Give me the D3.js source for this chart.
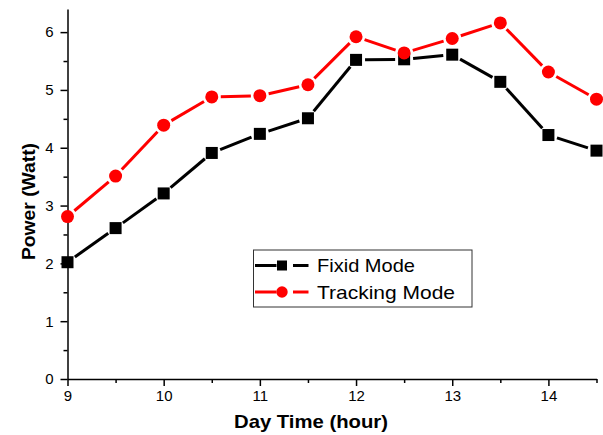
<!DOCTYPE html>
<html>
<head>
<meta charset="utf-8">
<script src="https://cdn.jsdelivr.net/npm/d3@7"></script>
<style>
  body { margin: 0; background: #fff; }
  text { font-family: "Liberation Sans", Arial, sans-serif; }
</style>
</head>
<body>
<div id="chart"></div>
<script>
var hours = [9, 9.5, 10, 10.5, 11, 11.5, 12, 12.5, 13, 13.5, 14, 14.5];
var fixedMode = [2.02, 2.61, 3.21, 3.91, 4.24, 4.51, 5.52, 5.53, 5.61, 5.14, 4.22, 3.95];
var trackingMode = [2.81, 3.51, 4.39, 4.88, 4.90, 5.09, 5.92, 5.64, 5.89, 6.16, 5.31, 4.84];
var xTicks = [9, 10, 11, 12, 13, 14];
var yTicks = [0, 1, 2, 3, 4, 5, 6];
var seriesNames = ["Fixid Mode", "Tracking Mode"];

var width = 603, height = 435;
var margin = {top: 9, right: 6, bottom: 56, left: 67.5};
var w = width - margin.left - margin.right,
    h = height - margin.top - margin.bottom;

var svg = d3.select("#chart").append("svg")
    .attr("width", width)
    .attr("height", height);

var g = svg.append("g")
    .attr("transform", "translate(" + margin.left + "," + margin.top + ")");

var x = d3.scaleLinear().domain([9, 14.5]).range([0, w - 0.5]);
var y = d3.scaleLinear().domain([0, 6.4]).range([h, 0]);

// minor ticks
g.append("g")
    .attr("transform", "translate(0," + h + ")")
    .call(d3.axisBottom(x).tickValues(d3.range(9.5, 14.6, 1)).tickSize(4).tickFormat(""))
    .call(function(s) { s.select(".domain").remove(); s.selectAll("line").attr("stroke-width", 1.5); });
g.append("g")
    .call(d3.axisLeft(y).tickValues(d3.range(0.5, 6.4, 1)).tickSize(4).tickFormat(""))
    .call(function(s) { s.select(".domain").remove(); s.selectAll("line").attr("stroke-width", 1.5); });

// X axis
var xa = g.append("g")
    .attr("transform", "translate(0," + h + ")")
    .call(d3.axisBottom(x).tickValues(xTicks).tickSize(7).tickSizeOuter(0).tickPadding(4).tickFormat(d3.format("d")));
xa.select(".domain").attr("stroke-width", 1.5);
xa.selectAll("line").attr("stroke-width", 1.5);
xa.selectAll("text").attr("font-size", 15).attr("font-family", "Liberation Sans, Arial, sans-serif");

// Y axis
var ya = g.append("g")
    .call(d3.axisLeft(y).tickValues(yTicks).tickSize(7).tickSizeOuter(0).tickPadding(7).tickFormat(d3.format("d")));
ya.select(".domain").attr("stroke-width", 1.5);
ya.selectAll("line").attr("stroke-width", 1.5);
ya.selectAll("text").attr("font-size", 15).attr("font-family", "Liberation Sans, Arial, sans-serif");

// axis titles
svg.append("text")
    .attr("x", 234).attr("y", 427.5)
    .attr("font-size", 19).attr("font-weight", "bold")
    .attr("textLength", 154).attr("lengthAdjust", "spacingAndGlyphs")
    .text("Day Time (hour)");
svg.append("text")
    .attr("transform", "translate(34.5,260) rotate(-90)")
    .attr("font-size", 19).attr("font-weight", "bold")
    .attr("textLength", 117).attr("lengthAdjust", "spacingAndGlyphs")
    .text("Power (Watt)");

// lines with gaps around the markers
var gap = 9;
function drawSeries(vals, color) {
  var pts = hours.map(function(d, i) { return [x(d), y(vals[i])]; });
  var segs = [];
  for (var i = 0; i < pts.length - 1; i++) {
    var a = pts[i], b = pts[i + 1];
    var dx = b[0] - a[0], dy = b[1] - a[1];
    var len = Math.sqrt(dx * dx + dy * dy);
    if (len > 2 * gap) {
      segs.push([a[0] + dx * gap / len, a[1] + dy * gap / len,
                 b[0] - dx * gap / len, b[1] - dy * gap / len]);
    }
  }
  g.selectAll(null).data(segs).enter().append("line")
      .attr("x1", function(d) { return d[0]; })
      .attr("y1", function(d) { return d[1]; })
      .attr("x2", function(d) { return d[2]; })
      .attr("y2", function(d) { return d[3]; })
      .attr("stroke", color)
      .attr("stroke-width", 3);
}
drawSeries(fixedMode, "#000");
drawSeries(trackingMode, "#ff0000");

g.selectAll("rect.fixed").data(fixedMode).enter().append("rect")
    .attr("class", "fixed")
    .attr("x", function(d, i) { return x(hours[i]) - 6; })
    .attr("y", function(d) { return y(d) - 6; })
    .attr("width", 12).attr("height", 12)
    .attr("fill", "#000");

g.selectAll("circle.track").data(trackingMode).enter().append("circle")
    .attr("class", "track")
    .attr("cx", function(d, i) { return x(hours[i]); })
    .attr("cy", function(d) { return y(d); })
    .attr("r", 6.5)
    .attr("fill", "#ff0000");

// legend
var lg = svg.append("g").attr("transform", "translate(253.5,250)");
lg.append("rect")
    .attr("width", 218.5).attr("height", 57)
    .attr("fill", "#fff").attr("stroke", "#333").attr("stroke-width", 1);
var rows = [{name: seriesNames[0], color: "#000", shape: "square", len: 98},
            {name: seriesNames[1], color: "#ff0000", shape: "circle", len: 138}];
rows.forEach(function(r, i) {
  var cy = 15.5 + i * 26.5;
  lg.append("line").attr("x1", 1.5).attr("x2", 23).attr("y1", cy).attr("y2", cy)
    .attr("stroke", r.color).attr("stroke-width", 3);
  lg.append("line").attr("x1", 39.5).attr("x2", 55).attr("y1", cy).attr("y2", cy)
    .attr("stroke", r.color).attr("stroke-width", 3);
  if (r.shape === "square") {
    lg.append("rect").attr("x", 23.5).attr("y", cy - 5).attr("width", 10).attr("height", 10).attr("fill", r.color);
  } else {
    lg.append("circle").attr("cx", 28.5).attr("cy", cy).attr("r", 5.7).attr("fill", r.color);
  }
  lg.append("text").attr("x", 63.5).attr("y", cy + 6.8)
    .attr("font-size", 19)
    .attr("textLength", r.len).attr("lengthAdjust", "spacingAndGlyphs")
    .text(r.name);
});
</script>
</body>
</html>
